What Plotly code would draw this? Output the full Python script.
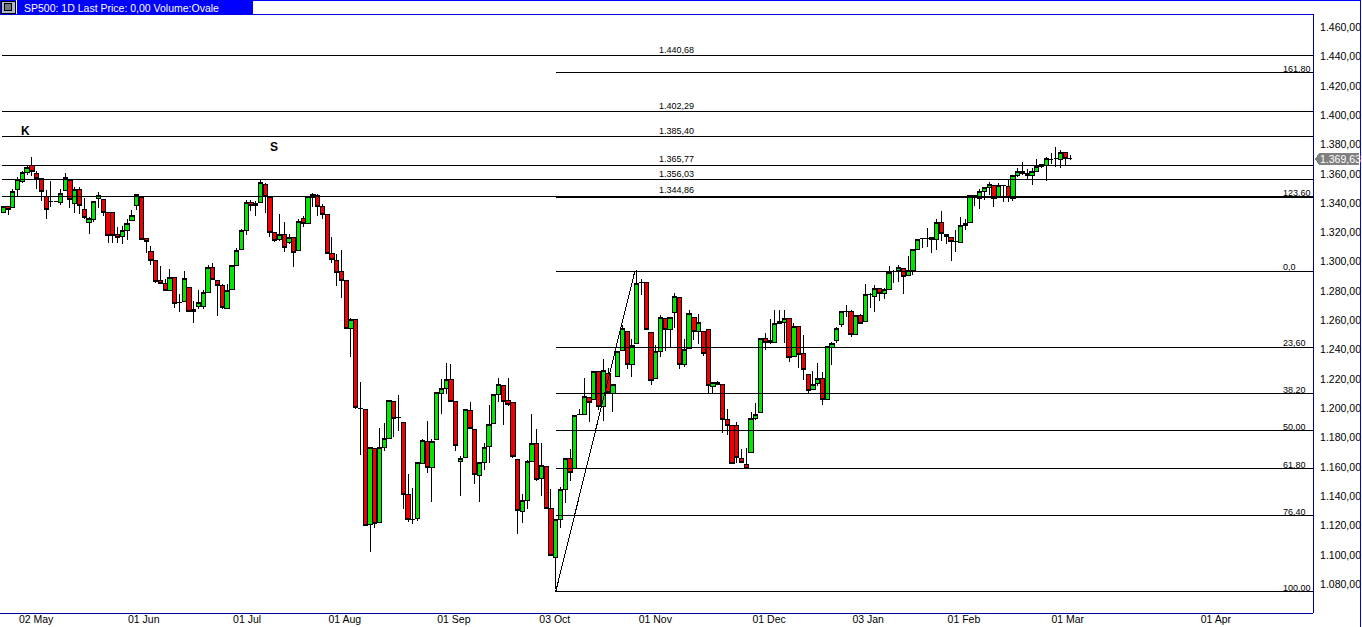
import plotly.graph_objects as go

opens = [1333.6,1337.5,1337.0,1349.5,1354.5,1360.9,1365.9,1360.2,1356.8,1344.7,
1341.1,1341.1,1340.4,1348.6,1355.4,1339.7,1349.0,1335.6,1326.8,1328.8,
1343.1,1342.2,1333.6,1333.6,1318.6,1317.2,1321.3,1328.1,1338.3,1343.8,
1315.8,1306.9,1300.8,1287.2,1285.1,1280.4,1289.2,1272.2,1272.9,1282.4,
1266.0,1269.4,1269.4,1279.0,1296.0,1287.2,1283.8,1268.3,1281.0,1297.4,
1308.3,1321.3,1340.4,1338.3,1340.4,1352.7,1343.6,1319.9,1315.1,1318.3,
1313.1,1316.5,1307.6,1329.5,1326.1,1343.8,1345.2,1337.7,1332.2,1305.4,
1300.8,1293.3,1287.1,1254.4,1260.5,1200.1,1199.2,1120.7,1172.6,1122.1,
1173.2,1179.4,1204.6,1193.9,1190.3,1141.2,1124.1,1124.8,1162.3,1177.1,
1159.6,1178.7,1210.3,1213.5,1219.6,1204.6,1163.7,1166.4,1198.5,1185.5,
1154.1,1163.0,1173.9,1189.6,1209.4,1215.5,1205.3,1203.9,1165.1,1129.6,
1137.1,1163.7,1176.0,1152.1,1160.3,1131.6,1098.2,1124.1,1144.6,1165.7,
1158.9,1195.5,1195.8,1207.3,1206.0,1225.1,1201.2,1223.7,1210.1,1221.7,
1239.4,1252.4,1229.8,1244.2,1285.6,1285.6,1251.7,1220.3,1238.7,1261.2,
1253.7,1265.3,1275.5,1229.8,1240.8,1261.9,1252.4,1252.4,1253.7,1214.8,
1217.6,1216.2,1192.3,1188.2,1188.2,1165.7,1161.6,1169.8,1193.0,1197.1,
1247.6,1246.2,1244.9,1257.8,1258.5,1261.2,1235.3,1255.8,1237.3,1223.1,
1212.8,1216.9,1220.3,1206.0,1241.5,1246.2,1256.9,1266.0,1266.0,1250.4,
1263.3,1259.2,1277.6,1276.3,1281.7,1278.3,1281.0,1293.3,1294.0,1295.4,
1290.6,1294.0,1308.3,1315.6,1316.1,1316.5,1315.2,1326.7,1318.6,1316.5,
1313.6,1313.1,1324.7,1326.7,1345.4,1343.1,1347.9,1350.6,1352.0,1343.8,
1351.8,1351.3,1343.1,1358.8,1361.5,1360.2,1358.8,1361.5,1364.9,1365.9,
1369.7,1370.4,1369.7,1374.5,1370.4]

closes = [1337.5,1335.4,1347.7,1356.3,1360.9,1364.3,1361.5,1357.0,1347.9,1335.6,
1341.1,1341.1,1346.5,1357.2,1342.4,1349.0,1338.3,1330.2,1329.5,1341.1,
1344.9,1333.6,1317.9,1317.9,1316.3,1321.3,1326.1,1331.5,1345.6,1315.1,
1313.8,1300.8,1286.3,1285.1,1280.4,1289.2,1271.5,1272.2,1288.5,1266.0,
1267.4,1272.2,1279.0,1296.0,1287.9,1283.8,1268.8,1280.1,1297.2,1307.6,
1321.3,1340.4,1338.3,1339.7,1354.0,1344.5,1319.9,1314.4,1318.3,1309.7,
1316.5,1306.3,1327.4,1326.1,1344.5,1345.6,1337.7,1332.2,1305.6,1301.5,
1292.6,1287.2,1254.4,1260.5,1200.3,1200.1,1120.0,1173.0,1121.4,1173.0,
1179.4,1205.3,1193.0,1193.9,1141.2,1124.1,1124.1,1163.0,1178.0,1159.6,
1177.3,1210.8,1213.5,1219.4,1204.6,1174.6,1165.7,1199.2,1186.2,1154.8,
1163.0,1173.2,1188.9,1209.4,1216.2,1204.6,1202.6,1167.1,1130.3,1137.1,
1163.7,1176.0,1151.4,1161.0,1131.6,1099.6,1124.1,1144.6,1165.7,1156.2,
1195.1,1195.5,1208.0,1203.9,1225.1,1201.2,1225.8,1210.8,1216.2,1238.7,
1254.4,1229.8,1242.6,1285.1,1285.6,1253.7,1218.9,1238.7,1261.9,1253.7,
1261.9,1276.2,1229.8,1240.1,1264.6,1252.4,1258.5,1237.3,1215.5,1217.6,
1216.2,1192.3,1188.2,1162.3,1166.4,1163.0,1158.9,1193.0,1195.7,1247.6,
1244.9,1244.9,1257.8,1259.2,1261.2,1234.6,1255.8,1236.7,1226.4,1212.1,
1216.2,1220.3,1206.0,1242.2,1244.2,1254.4,1266.0,1266.0,1250.4,1263.3,
1257.8,1277.6,1277.6,1281.7,1278.3,1281.0,1292.6,1293.3,1296.0,1289.9,
1294.0,1308.3,1315.2,1315.6,1316.1,1315.4,1326.7,1319.2,1317.2,1313.8,
1313.6,1324.7,1326.1,1345.2,1345.4,1347.9,1350.6,1352.7,1343.1,1352.0,
1351.8,1343.8,1358.8,1361.5,1360.2,1359.0,1361.5,1364.9,1366.3,1370.4,
1369.7,1370.4,1374.5,1370.4,1370.4]

highs = [1337.5,1338.1,1350.0,1358.1,1362.2,1365.4,1371.3,1361.8,1357.0,1348.8,
1354.9,1341.1,1350.0,1360.4,1355.4,1351.3,1351.3,1343.6,1330.8,1341.5,
1347.4,1342.7,1333.6,1333.6,1324.0,1324.5,1329.0,1335.2,1346.1,1343.8,
1316.3,1310.6,1300.8,1297.2,1288.1,1295.4,1289.2,1277.9,1293.8,1282.4,
1273.3,1280.6,1280.6,1298.1,1299.5,1287.2,1284.7,1285.1,1297.2,1309.7,
1322.7,1342.0,1342.0,1341.5,1356.8,1354.0,1343.8,1320.4,1332.4,1327.4,
1318.8,1316.5,1329.0,1331.3,1344.5,1347.2,1346.1,1339.2,1332.2,1317.2,
1305.1,1307.9,1287.1,1261.9,1260.5,1218.2,1199.2,1173.0,1172.6,1186.9,
1189.8,1205.3,1204.6,1208.9,1190.3,1155.0,1146.0,1163.0,1179.4,1191.2,
1178.9,1210.8,1220.3,1231.2,1230.1,1204.6,1167.8,1199.2,1204.6,1185.5,
1163.0,1176.6,1202.6,1209.4,1220.5,1215.5,1221.0,1203.9,1165.1,1141.9,
1164.6,1196.4,1185.7,1176.6,1160.3,1145.3,1124.1,1146.6,1165.7,1172.1,
1195.1,1199.8,1221.0,1208.0,1225.1,1225.1,1233.5,1227.8,1216.2,1239.2,
1257.1,1252.4,1247.1,1294.2,1288.1,1285.6,1251.7,1243.0,1263.9,1261.2,
1261.9,1278.5,1275.5,1247.1,1267.4,1261.9,1264.6,1252.4,1254.4,1217.6,
1218.9,1216.2,1199.4,1188.2,1190.9,1172.1,1173.2,1197.8,1203.9,1247.6,
1251.7,1260.8,1267.4,1267.4,1267.4,1261.2,1258.5,1255.8,1250.3,1223.1,
1225.8,1231.2,1225.1,1242.2,1245.6,1255.8,1266.0,1270.4,1267.0,1263.3,
1264.7,1285.1,1279.0,1284.0,1282.4,1282.4,1297.0,1294.4,1297.6,1295.4,
1303.8,1308.3,1315.2,1315.6,1322.9,1316.5,1329.0,1334.5,1319.2,1316.5,
1322.0,1330.8,1329.5,1345.2,1345.4,1349.9,1351.3,1354.7,1352.0,1354.0,
1351.8,1356.8,1358.8,1364.3,1368.4,1363.6,1364.3,1370.0,1366.3,1371.8,
1374.0,1378.6,1376.6,1375.2,1372.7]

lows = [1333.6,1331.7,1337.0,1344.0,1353.6,1359.0,1358.6,1349.5,1341.5,1329.0,
1337.7,1341.1,1338.8,1348.1,1336.5,1333.6,1332.4,1329.0,1318.8,1327.2,
1336.5,1331.3,1312.9,1312.9,1312.6,1312.0,1314.9,1328.1,1335.2,1314.7,
1305.8,1297.9,1285.8,1285.1,1280.4,1280.4,1268.3,1265.8,1272.6,1266.0,
1258.5,1267.6,1268.0,1279.0,1287.9,1263.1,1268.0,1267.6,1281.0,1297.4,
1308.3,1318.1,1334.5,1331.3,1340.4,1333.6,1317.0,1313.8,1314.2,1306.7,
1312.0,1296.5,1307.6,1324.0,1326.1,1337.7,1331.3,1329.5,1305.6,1299.5,
1283.5,1275.6,1254.4,1235.1,1199.8,1168.2,1120.0,1102.1,1118.4,1122.1,
1171.0,1179.4,1180.5,1184.4,1131.2,1122.8,1121.2,1123.2,1162.3,1155.7,
1136.2,1178.7,1196.0,1209.8,1204.6,1171.0,1140.3,1166.4,1186.2,1148.2,
1136.2,1158.0,1163.0,1189.6,1204.4,1188.9,1201.7,1166.4,1114.3,1122.1,
1131.2,1163.7,1150.5,1140.3,1131.6,1099.6,1076.6,1118.7,1135.7,1150.3,
1158.9,1195.3,1195.8,1190.7,1206.0,1198.9,1191.4,1210.8,1197.6,1221.7,
1239.4,1226.7,1221.4,1244.2,1277.4,1253.7,1216.0,1220.3,1235.1,1238.9,
1241.4,1255.1,1226.7,1228.5,1240.8,1246.4,1244.2,1236.0,1209.6,1210.1,
1216.2,1183.4,1181.9,1162.3,1163.0,1163.0,1158.9,1169.8,1192.3,1197.1,
1239.8,1243.7,1244.9,1257.8,1244.9,1231.7,1235.3,1227.3,1219.4,1209.9,
1212.8,1215.3,1202.4,1206.0,1229.4,1244.9,1255.6,1262.4,1248.5,1250.4,
1257.8,1259.2,1268.3,1265.8,1273.1,1274.4,1281.0,1285.6,1286.3,1277.9,
1290.6,1291.0,1308.3,1309.5,1310.1,1305.8,1308.1,1314.2,1312.0,1300.4,
1306.7,1313.1,1321.5,1326.7,1338.1,1336.1,1342.2,1345.9,1337.4,1343.8,
1340.8,1340.8,1341.8,1357.9,1359.0,1355.9,1352.4,1361.5,1363.8,1355.2,
1366.5,1365.0,1364.0,1366.3,1369.3]

tick_idx = [6.9,29.5,51.2,71.7,94.6,115.8,136.9,160.8,181.6,201.7,223.5,254.6]
tick_labels = ["02 May","01 Jun","01 Jul","01 Aug","01 Sep","03 Oct","01 Nov","01 Dec","03 Jan","01 Feb","01 Mar","01 Apr"]
price_ticks = [1080,1100,1120,1140,1160,1180,1200,1220,1240,1260,1280,1300,1320,1340,1360,1380,1400,1420,1440,1460]
price_labels = ["1.%03d,00" % (v-1000) for v in price_ticks]

level_values = [1440.68,1402.29,1385.40,1365.77,1356.03,1344.86]
level_labels = ["1.440,68","1.402,29","1.385,40","1.365,77","1.356,03","1.344,86"]
fib_values = [1429.0,1344.0,1293.5,1241.6,1209.9,1184.8,1158.8,1126.8,1074.8]
fib_labels = ["161,80","123,60","0,0","23,60","38,20","50,00","61,80","76,40","100,00"]
trend_x = [116.0,132.6]
trend_y = [1075.0,1293.5]
last_price_label = "1.369,63"
title_text = "SP500: 1D Last Price: 0,00 Volume:Ovale"

FONT = "Liberation Sans"
X0, X1 = -0.69, 275.0
Y0, Y1 = 1060.4, 1469.05
PW, PH = 1313.0, 599.0
px = lambda p: p/PW
py = lambda p: (613.0-p)/PH
x_of = lambda p: X0 + (X1-X0)*p/PW

idx = list(range(len(opens)))
fig = go.Figure()
for v in level_values:
    fig.add_trace(go.Scatter(x=[x_of(2),X1],y=[v,v],mode="lines",line=dict(color="black",width=1),hoverinfo="skip"))
for v in fib_values:
    fig.add_trace(go.Scatter(x=[116.0,X1],y=[v,v],mode="lines",line=dict(color="black",width=1),hoverinfo="skip"))
fig.add_trace(go.Scatter(x=trend_x,y=trend_y,mode="lines",line=dict(color="black",width=1),hoverinfo="skip"))
fig.add_trace(go.Candlestick(x=idx,open=opens,high=highs,low=lows,close=closes,whiskerwidth=0,
    increasing=dict(fillcolor="#00E800",line=dict(color="black",width=1)),
    decreasing=dict(fillcolor="#F00000",line=dict(color="black",width=1)),hoverinfo="skip"))

ann = []
def text(x,y,t,**k):
    d = dict(x=x,y=y,text=t,showarrow=False,borderpad=0,xanchor="left",yanchor="bottom",
             font=dict(family=FONT,size=k.pop("size",9),color=k.pop("color","black")))
    d.update(k); ann.append(d)
for v,t in zip(level_values,level_labels):
    text(x_of(658),v,t,xref="x",yref="y")
for v,t in zip(fib_values,fib_labels):
    text(x_of(1282),v,t,xref="x",yref="y",yshift=-2)
text(x_of(20),1389,"<b>K</b>",size=12,xref="x",yref="y",yanchor="middle")
text(x_of(269),1378,"<b>S</b>",size=12,xref="x",yref="y",yanchor="middle")
text(px(23),py(7.5),title_text,size=10.5,color="white",xref="paper",yref="paper",yanchor="middle")

shapes = [
 dict(type="rect",xref="paper",yref="paper",x0=0,x1=px(253),y0=py(14),y1=py(0),fillcolor="#0000FF",line_width=0),
 dict(type="rect",xref="paper",yref="paper",x0=px(1),x1=px(15),y0=py(13),y1=py(1),fillcolor="#B0B8C8",line=dict(color="black",width=1)),
 dict(type="rect",xref="paper",yref="paper",x0=px(4),x1=px(11),y0=py(10),y1=py(3),fillcolor="#707880",line=dict(color="black",width=1)),
 dict(type="line",xref="paper",yref="paper",x0=px(16),x1=px(16),y0=py(14),y1=py(0),line=dict(color="white",width=1)),
 dict(type="line",xref="paper",yref="paper",x0=px(253),x1=px(1361),y0=py(0.5),y1=py(0.5),line=dict(color="#0000FF",width=1)),
 dict(type="line",xref="paper",yref="paper",x0=px(1360.5),x1=px(1360.5),y0=py(0),y1=py(627),line=dict(color="#0000FF",width=1)),
 dict(type="line",xref="paper",yref="paper",x0=0,x1=px(1313),y0=py(14),y1=py(14),line=dict(color="#0000E0",width=1)),
 dict(type="line",xref="paper",yref="paper",x0=px(1313),x1=px(1313),y0=py(14),y1=py(613),line=dict(color="#000099",width=1)),
 dict(type="line",xref="paper",yref="paper",x0=0,x1=px(1313),y0=py(613),y1=py(613),line=dict(color="#000099",width=1)),
 dict(type="rect",xref="paper",yref="paper",x0=px(1319),x1=px(1359),y0=py(165),y1=py(153),fillcolor="#808080",line_width=0),
 dict(type="path",xref="paper",yref="paper",path=f"M {px(1319)} {py(153)} L {px(1315)} {py(159)} L {px(1319)} {py(165)} Z",fillcolor="#808080",line_width=0),
]
text(px(1319),py(159),last_price_label,size=10.5,color="white",xref="paper",yref="paper",yanchor="middle")

fig.update_layout(
    width=1362,height=627,autosize=False,showlegend=False,
    margin=dict(l=0,r=49,t=14,b=14,pad=0),
    paper_bgcolor="white",plot_bgcolor="white",boxgap=0.1,boxgroupgap=0,
    xaxis=dict(range=[X0,X1],automargin=False,anchor="free",position=0.0017,tickmode="array",tickvals=tick_idx,ticktext=tick_labels,showgrid=False,zeroline=False,
               rangeslider=dict(visible=False),showline=False,ticks="",
               tickfont=dict(family=FONT,size=10.5,color="black"),tickangle=0),
    yaxis=dict(range=[Y0,Y1],automargin=False,side="right",tickmode="array",tickvals=price_ticks,ticktext=price_labels,showgrid=False,zeroline=False,
               showline=False,ticks="outside",ticklen=4,tickcolor="white",
               tickfont=dict(family=FONT,size=10.5,color="black")),
    annotations=ann,shapes=shapes)

post = """
document.body.style.margin='0';
document.documentElement.style.overflow='hidden';
var s=document.createElement('style');
s.textContent='.js-plotly-plot .plotly path{shape-rendering:crispEdges !important}';
document.head.appendChild(s);
"""
fig.write_html("out.html",config=dict(displayModeBar=False,staticPlot=True),post_script=post)
